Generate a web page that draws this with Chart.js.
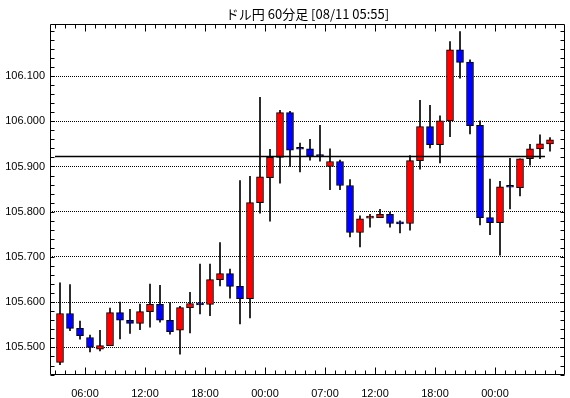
<!DOCTYPE html>
<html>
<head>
<meta charset="utf-8">
<script src="https://cdn.jsdelivr.net/npm/chart.js@4"></script>
<style>
  body { margin: 0; background: #fff; }
  #wrap { width: 570px; height: 398px; }
</style>
</head>
<body>
<div id="wrap"><canvas id="myChart" width="570" height="398"></canvas></div>
<script>
// 60 minute candles, oldest first
const openVals = [105.467, 105.575, 105.542, 105.522, 105.496, 105.504, 105.577, 105.560, 105.553, 105.579,
    105.595, 105.560, 105.538, 105.588, 105.596, 105.595, 105.650, 105.663, 105.635, 105.608,
    105.820, 105.875, 105.920, 106.019, 105.940, 105.939, 105.923, 105.900, 105.911, 105.858,
    105.754, 105.786, 105.787, 105.794, 105.774, 105.774, 105.913, 105.988, 105.948, 106.001,
    106.158, 106.131, 105.991, 105.787, 105.776, 105.855, 105.853, 105.917, 105.939, 105.950];
const closeVals = [105.575, 105.542, 105.526, 105.500, 105.504, 105.577, 105.560, 105.553, 105.579, 105.595,
    105.560, 105.535, 105.588, 105.597, 105.594, 105.650, 105.663, 105.635, 105.608, 105.820,
    105.877, 105.920, 106.019, 105.936, 105.938, 105.923, 105.922, 105.911, 105.858, 105.754,
    105.784, 105.786, 105.794, 105.774, 105.773, 105.913, 105.988, 105.948, 106.001, 106.158,
    106.130, 105.990, 105.787, 105.776, 105.855, 105.854, 105.917, 105.939, 105.950, 105.959];
const highVals = [105.643, 105.639, 105.558, 105.527, 105.538, 105.587, 105.600, 105.584, 105.596, 105.640,
    105.637, 105.599, 105.591, 105.622, 105.684, 105.684, 105.732, 105.673, 105.869, 105.878,
    106.053, 105.938, 106.024, 106.022, 105.952, 105.960, 105.991, 105.939, 105.914, 105.871,
    105.791, 105.794, 105.805, 105.799, 105.780, 105.924, 106.046, 106.035, 106.012, 106.176,
    106.198, 106.136, 106.001, 105.872, 105.867, 105.918, 105.917, 105.949, 105.970, 105.964];
const lowVals = [105.462, 105.537, 105.518, 105.490, 105.492, 105.504, 105.519, 105.531, 105.539, 105.545,
    105.556, 105.529, 105.485, 105.532, 105.574, 105.570, 105.636, 105.609, 105.552, 105.565,
    105.797, 105.779, 105.863, 105.900, 105.888, 105.914, 105.912, 105.849, 105.849, 105.744,
    105.722, 105.766, 105.787, 105.766, 105.753, 105.759, 105.894, 105.941, 105.908, 105.966,
    106.095, 105.972, 105.771, 105.749, 105.704, 105.806, 105.835, 105.903, 105.917, 105.934];

// time labels sit between candles
const xTickPos = [2.5, 8.5, 14.5, 20.5, 26.5, 31.5, 37.5, 43.5];
const xTickLabels = ['06:00', '12:00', '18:00', '00:00', '07:00', '12:00', '18:00', '00:00'];
const yTickVals = [105.5, 105.6, 105.7, 105.8, 105.9, 106.0, 106.1];

const refLevel = 105.922;
const refStart = -0.5;
const refEnd = 48.5;

const titleText = 'ドル円 60分足 [08/11 05:55]';

const wickData = lowVals.map((l, i) => ({x: i, y: [l, highVals[i]]}));
const bodyData = openVals.map((o, i) => ({x: i, y: [o, closeVals[i]]}));
const bodyColors = openVals.map((o, i) => closeVals[i] >= o ? '#ff0000' : '#0000ff');

// frame + inward tick marks
const frameTicks = {
    id: 'frameTicks',
    afterDraw(chart) {
        const ctx = chart.ctx;
        const a = chart.chartArea;
        const xs = chart.scales.x;
        const ys = chart.scales.y;
        ctx.save();
        ctx.strokeStyle = '#000';
        ctx.lineWidth = 1;
        ctx.beginPath();
        const L = Math.round(a.left) + 0.5, R = Math.round(a.right) - 0.5;
        const T = Math.round(a.top) + 0.5, B = Math.round(a.bottom) - 0.5;
        ctx.rect(L, T, R - L, B - T);
        // y minor ticks every 0.02
        for (let v = 105.44; v <= 106.21; v += 0.02) {
            const py = Math.round(ys.getPixelForValue(v)) + 0.5;
            ctx.moveTo(L, py); ctx.lineTo(L + 4, py);
            ctx.moveTo(R, py); ctx.lineTo(R - 4, py);
        }
        // x ticks every candle boundary
        for (let i = -0.5; i <= 49.5; i += 1) {
            const px = Math.round(xs.getPixelForValue(i)) + 0.5;
            const len = xTickPos.includes(i) ? 7 : 4;
            ctx.moveTo(px, T); ctx.lineTo(px, T + len);
            ctx.moveTo(px, B); ctx.lineTo(px, B - len);
        }
        ctx.stroke();
        ctx.restore();
    }
};

const config = {
    data: {
        datasets: [{
            type: 'line',
            data: [{x: refStart, y: refLevel}, {x: refEnd, y: refLevel}],
            borderColor: '#000',
            borderWidth: 1.5,
            pointRadius: 0,
            order: 1
        }, {
            type: 'bar',
            data: bodyData,
            backgroundColor: bodyColors,
            borderColor: '#000',
            borderWidth: 1,
            borderSkipped: false,
            barThickness: 7,
            minBarLength: 2,
            grouped: false,
            order: 2
        }, {
            type: 'bar',
            data: wickData,
            backgroundColor: '#000',
            borderWidth: 0,
            barThickness: 1,
            grouped: false,
            order: 3
        }]
    },
    options: {
        responsive: false,
        animation: false,
        layout: { padding: { left: 0, right: 5, top: 0, bottom: 0 } },
        plugins: {
            legend: { display: false },
            tooltip: { enabled: false },
            title: {
                display: true,
                text: titleText,
                fullSize: false,
                color: '#000',
                font: { family: '"Noto Sans CJK JP", sans-serif', size: 13, weight: 'normal', lineHeight: 1.2 },
                padding: { top: 6, bottom: 2.4 }
            }
        },
        scales: {
            x: {
                type: 'linear',
                min: -1,
                max: 50.5,
                offset: false,
                grid: { display: false },
                border: { display: false },
                afterBuildTicks: (s) => { s.ticks = xTickPos.map(v => ({value: v})); },
                afterFit: (s) => { s.height = 23; },
                ticks: {
                    autoSkip: false,
                    maxRotation: 0,
                    padding: 4,
                    color: '#000',
                    font: { family: '"Liberation Sans", Arial, sans-serif', size: 11 },
                    callback: (v) => xTickLabels[xTickPos.indexOf(v)]
                }
            },
            y: {
                min: 105.439,
                max: 106.215,
                grid: { color: '#000', lineWidth: 1, drawTicks: false },
                border: { display: false, dash: [1, 1] },
                afterBuildTicks: (s) => { s.ticks = yTickVals.map(v => ({value: v})); },
                afterFit: (s) => { s.width = 50; },
                ticks: {
                    padding: 5,
                    color: '#000',
                    font: { family: '"Liberation Sans", Arial, sans-serif', size: 11 },
                    callback: (v) => v.toFixed(3)
                }
            }
        }
    },
    plugins: [frameTicks]
};

const myChart = new Chart(document.getElementById('myChart'), config);
</script>
</body>
</html>
